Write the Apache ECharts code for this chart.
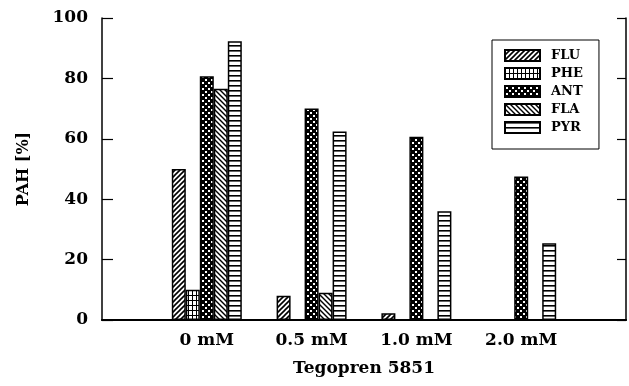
<!DOCTYPE html>
<html>
<head>
<meta charset="utf-8">
<script src="https://cdn.jsdelivr.net/npm/echarts@6/dist/echarts.min.js"></script>
<style>html,body{margin:0;padding:0;background:#fff;}#c{width:629px;height:386px;}</style>
</head>
<body>
<div id="c"></div>
<script>
const categories = ['', '0 mM', '0.5 mM', '1.0 mM', '2.0 mM', ''];
const seriesNames = ['FLU', 'PHE', 'ANT', 'FLA', 'PYR'];
const FLU = [null, 50, 8, 2.2, null, null];
const PHE = [null, 10, null, null, null, null];
const ANT = [null, 80.7, 70, 60.7, 47.5, null];
const FLA = [null, 76.6, 9, null, null, null];
const PYR = [null, 92.3, 62.4, 36, 25.4, null];
const yTicks = [0, 20, 40, 60, 80, 100];

const FONT = 'DejaVu Serif';

function tile(w, h, draw) {
  const c = document.createElement('canvas');
  c.width = w; c.height = h;
  const g = c.getContext('2d');
  g.fillStyle = '#fff'; g.fillRect(0, 0, w, h);
  g.fillStyle = '#000'; g.strokeStyle = '#000';
  draw(g, w, h);
  return { image: c, repeat: 'repeat' };
}
const patterns = {
  FLU: tile(5, 5, (g, w, h) => {
    g.lineWidth = 1.6;
    [[-1, h + 1, w + 1, -1], [-1, 1, 1, -1], [w - 1, h + 1, w + 1, h - 1]].forEach(l => {
      g.beginPath(); g.moveTo(l[0], l[1]); g.lineTo(l[2], l[3]); g.stroke();
    });
  }),
  PHE: tile(4, 5, (g, w, h) => {
    g.fillRect(0, 0, w, 1);
    g.fillRect(0, 0, 1, h);
  }),
  ANT: tile(6, 6, (g, w, h) => {
    g.fillRect(0, 0, w, h);
    g.fillStyle = '#fff';
    g.fillRect(1, 1, 2, 2);
    g.fillRect(4, 4, 2, 2);
  }),
  FLA: tile(5, 5, (g, w, h) => {
    g.lineWidth = 1.4;
    [[-1, -1, w + 1, h + 1], [w - 1, -1, w + 1, 1], [-1, h - 1, 1, h + 1]].forEach(l => {
      g.beginPath(); g.moveTo(l[0], l[1]); g.lineTo(l[2], l[3]); g.stroke();
    });
  }),
  PYR: tile(4, 5, (g, w, h) => {
    g.fillRect(0, 0, w, 1.6);
  })
};
const dataMap = { FLU, PHE, ANT, FLA, PYR };

const chart = echarts.init(document.getElementById('c'), null, { renderer: 'canvas' });
const textBase = { fontFamily: FONT, fontWeight: 'bold', color: '#000' };

chart.setOption({
  animation: false,
  backgroundColor: '#fff',
  grid: { left: 102, right: 1, top: 18, bottom: 66 },
  legend: {
    orient: 'vertical',
    left: 492, top: 40,
    padding: [9, 16, 15, 12],
    icon: 'rect',
    itemWidth: 35, itemHeight: 11, itemGap: 5,
    borderColor: '#000', borderWidth: 1,
    textStyle: Object.assign({ fontSize: 13, padding: [0, 0, 0, 6] }, textBase),
    data: seriesNames
  },
  xAxis: [
    {
      type: 'category', data: categories, boundaryGap: false,
      axisLine: { lineStyle: { color: '#000', width: 2 } },
      axisTick: { show: false },
      axisLabel: Object.assign({ fontSize: 17, margin: 12, interval: 0 }, textBase),
      splitLine: { show: false },
      name: 'Tegopren 5851', nameLocation: 'middle', nameGap: 40,
      nameTextStyle: Object.assign({ fontSize: 17 }, textBase)
    },
    {
      type: 'category', data: categories, boundaryGap: false, position: 'top',
      axisLine: { lineStyle: { color: '#000', width: 1.5 } },
      axisTick: { show: false }, axisLabel: { show: false }, splitLine: { show: false }
    }
  ],
  yAxis: [
    {
      type: 'value', min: yTicks[0], max: yTicks[yTicks.length - 1], interval: 20,
      axisLine: { show: true, lineStyle: { color: '#000', width: 1.5 } },
      axisTick: { show: true, inside: true, length: 11, lineStyle: { color: '#000', width: 1.2 } },
      axisLabel: Object.assign({ fontSize: 17, margin: 14 }, textBase),
      splitLine: { show: false },
      name: 'PAH [%]', nameLocation: 'middle', nameGap: 70, nameRotate: 90,
      nameTextStyle: Object.assign({ fontSize: 16 }, textBase)
    },
    {
      type: 'value', min: 0, max: 100, interval: 20, position: 'right',
      axisLine: { show: true, lineStyle: { color: '#000', width: 1.5 } },
      axisTick: { show: true, inside: true, length: 9, lineStyle: { color: '#000', width: 1.2 } },
      axisLabel: { show: false }, splitLine: { show: false }
    }
  ],
  series: seriesNames.map(n => ({
    name: n, type: 'bar', data: dataMap[n],
    barWidth: 14, barGap: '0%',
    itemStyle: { color: patterns[n], borderColor: '#000', borderWidth: 1.5 }
  }))
});
</script>
</body>
</html>
